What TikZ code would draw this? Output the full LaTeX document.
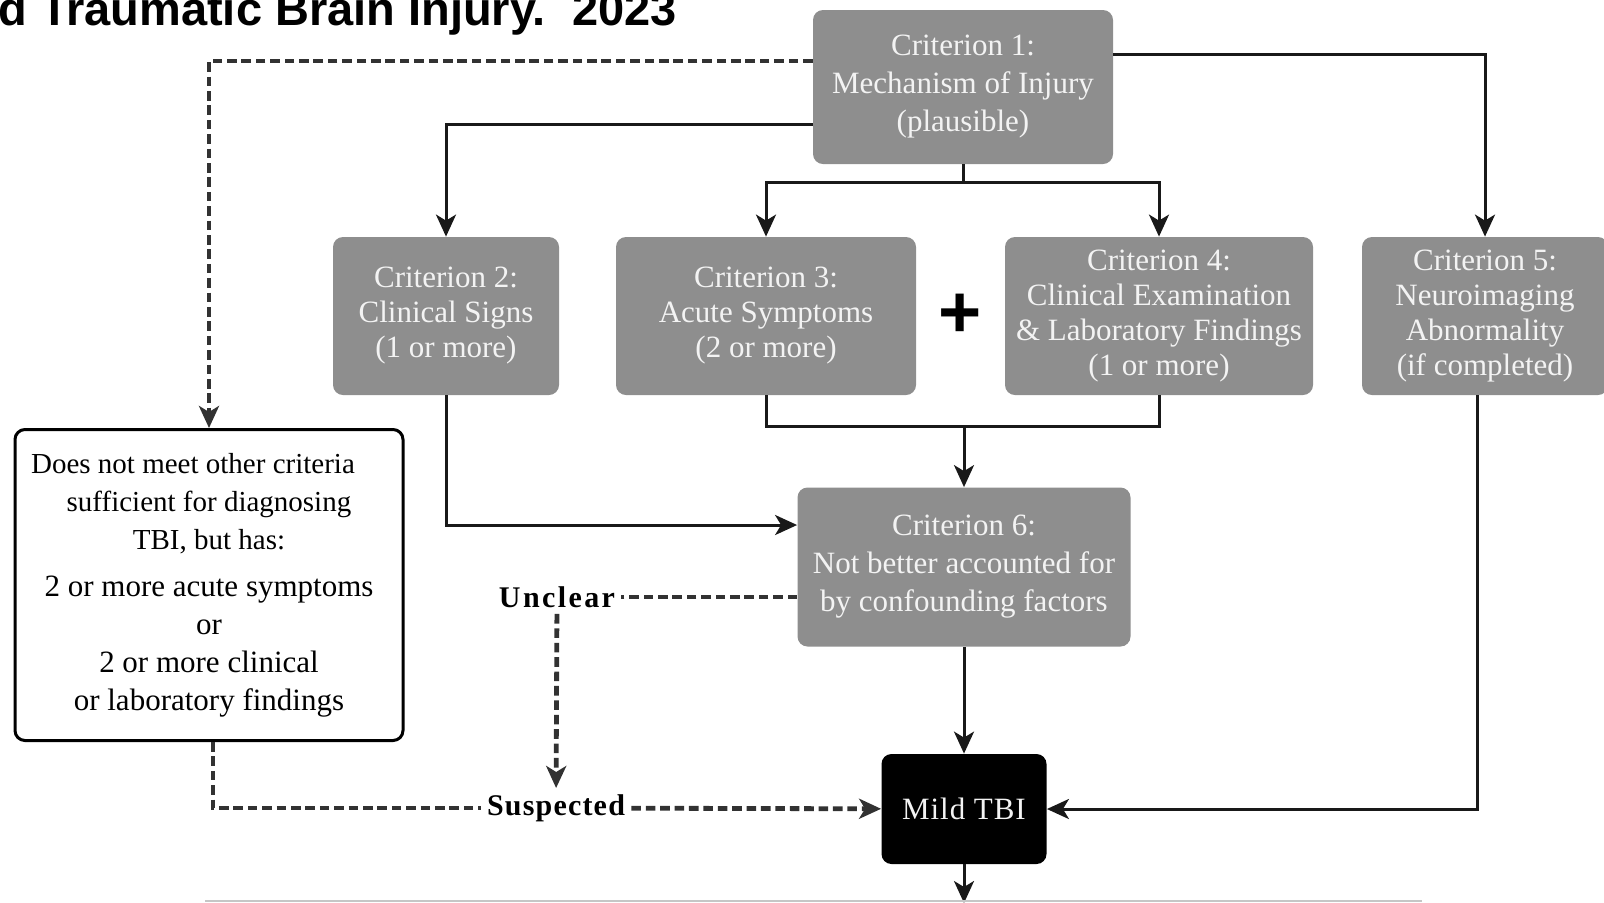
\documentclass[tikz,border=0pt]{standalone}
\usepackage{fontspec}
\setmainfont{Liberation Serif}
\newfontfamily\titlefont{Liberation Sans}
\newfontfamily\labelfont[LetterSpace=4]{Liberation Serif}
\usetikzlibrary{positioning,arrows.meta,calc}
\definecolor{critgray}{RGB}{142,142,142}
\definecolor{crittext}{RGB}{243,243,243}
\definecolor{dashgray}{RGB}{50,50,50}
\definecolor{linegray}{RGB}{25,25,25}

\begin{document}
\begin{tikzpicture}[x=0.5pt,y=-0.5pt,>={Stealth[length=11pt,width=10pt,inset=3pt]},
  crit/.style={fill=critgray,rounded corners=5pt,text=crittext,align=center,inner sep=0pt,
    font=\fontsize{15.5}{17.5}\selectfont},
  flow/.style={draw=linegray,line width=1.5pt},
  maybe/.style={draw=dashgray,line width=2.4pt,dash pattern=on 4.8pt off 2.4pt},
  verdict/.style={font=\labelfont\bfseries\fontsize{15}{18}\selectfont,inner sep=3pt}]
  \useasboundingbox (0,0) rectangle (1604,902);
  % title, cut at the top
  \node[anchor=base east,inner sep=0pt,font=\titlefont\bfseries\fontsize{23.5}{23.5}\selectfont] (title) at (677,25) {d Traumatic Brain Injury.\ \ 2023};
  % criteria
  \node[crit,minimum width=150pt,minimum height=77pt,font=\fontsize{15.5}{19}\selectfont] (c1) at (963,87) {Criterion 1:\\Mechanism of Injury\\(plausible)};
  \node[crit,minimum width=113pt,minimum height=79pt] (c2) at (446,316) {Criterion 2:\\Clinical Signs\\(1 or more)};
  \node[crit,minimum width=150pt,minimum height=79pt] (c3) at (766,316) {Criterion 3:\\Acute Symptoms\\(2 or more)};
  \node[crit,minimum width=154pt,minimum height=79pt] (c4) at (1159,316) {Criterion 4:\\Clinical Examination\\\& Laboratory Findings\\(1 or more)};
  \node[crit,minimum width=123pt,minimum height=79pt] (c5) at (1485,316) {Criterion 5:\\Neuroimaging\\Abnormality\\(if completed)};
  \node[font=\titlefont\bfseries\fontsize{37}{37}\selectfont,inner sep=0pt] (plus) at (960,316) {+};
  \node[crit,minimum width=166.5pt,minimum height=79.5pt,font=\fontsize{15.5}{19}\selectfont] (c6) at (964,567) {Criterion 6:\\Not better accounted for\\by confounding factors};
  \node[fill=black,text=crittext,rounded corners=5pt,minimum width=82.5pt,minimum height=55pt,
    font=\addfontfeature{LetterSpace=3}\fontsize{15.5}{19}\selectfont] (mild) at (964,809) {Mild TBI};
  \node[draw=black,line width=1.5pt,fill=white,rounded corners=5pt,align=center,minimum width=194pt,
    minimum height=155.5pt,inner sep=0pt,font=\fontsize{14.5}{19}\selectfont] (other) at (209,585)
    {Does not meet other criteria\rule{16pt}{0pt}\\sufficient for diagnosing\\TBI, but has:\\[4.5pt]
    {\fontsize{15.5}{19}\selectfont 2 or more acute symptoms}\\{\fontsize{15.5}{19}\selectfont or}\\
    {\fontsize{15.5}{19}\selectfont 2 or more clinical}\\{\fontsize{15.5}{19}\selectfont or laboratory findings}};
  \node[verdict,font=\labelfont\addfontfeature{LetterSpace=8}\bfseries\fontsize{15}{18}\selectfont] (unclear) at (557,597) {Unclear};
  \node[verdict] (suspected) at (556,808) {Suspected};
  \coordinate (split) at (963,182);
  \coordinate (exit) at (964,903);
  % connectors
  \draw[flow,->] (c1.west |- 0,124) -| (c2.north);
  \draw[flow,->] (c1.east |- 0,54) -| (c5.north);
  \draw[flow] (c1.south) -- (split);
  \draw[flow,->] (split) -| (c3.north);
  \draw[flow,->] (split) -| (c4.north);
  \draw[flow,->] (c2.south) |- (c6.west |- 0,525);
  \draw[flow] (c3.south) -- (c3.south |- 0,426) -| (c4.south);
  \draw[flow,->] (c6.north |- 0,426) -- (c6.north);
  \draw[flow,->] (c6) -- (mild);
  \draw[flow,->] (c5.south -| 1477,0) |- (mild.east);
  \draw[flow,->] (mild) -- (exit);
  \draw[maybe,->] (c1.west |- 0,61) -| (other.north);
  \draw[maybe] (c6.west |- unclear) -- (unclear.east);
  \draw[maybe,->] (unclear) -- (suspected);
  \draw[maybe] ([xshift=2pt]other.south) |- (suspected.west);
  \draw[maybe,->] (suspected) -- (mild);
  \draw[gray!45,line width=0.6pt] (205,901) -- (1422,901);
\end{tikzpicture}
\end{document}
